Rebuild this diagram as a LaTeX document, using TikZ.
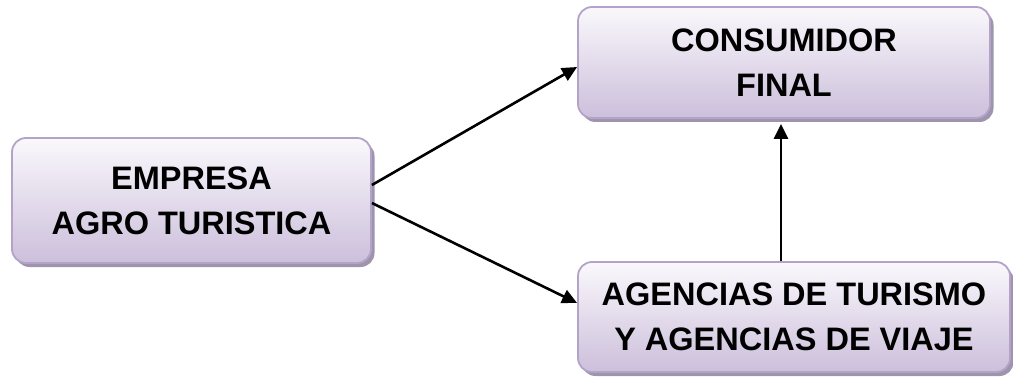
\documentclass[tikz,border=0pt]{standalone}
\usepackage{fontspec}
\setmainfont{Liberation Sans}
\usetikzlibrary{arrows.meta,shadows}
\definecolor{boxtop}{RGB}{250,248,252}
\definecolor{boxbot}{RGB}{204,191,219}
\definecolor{boxline}{RGB}{180,163,201}
\definecolor{shadowc}{RGB}{158,148,172}
\tikzset{
  box/.style={rectangle, rounded corners=14pt, draw=boxline, line width=1.8pt,
    top color=boxtop, bottom color=boxbot, align=center,
    font=\fontsize{32.5}{45}\selectfont\bfseries, inner sep=0pt,
    drop shadow={shadow xshift=3.5pt, shadow yshift=-4pt, fill=shadowc, opacity=1}},
  arr/.style={line width=2.6pt, -{Triangle[length=15pt,width=14pt]}}
}
\begin{document}
\begin{tikzpicture}[x=1pt,y=-1pt]
\useasboundingbox (0,0) rectangle (1013,377);
\node[box, minimum width=359pt, minimum height=125pt] (emp) at (191.5,200.5) {EMPRESA\\AGRO TURISTICA};
\node[box, minimum width=412pt, minimum height=111pt] (cons) at (784,62.5) {CONSUMIDOR\\FINAL};
\node[box, minimum width=432pt, minimum height=110pt] (agen) at (794,317) {AGENCIAS DE TURISMO\\Y AGENCIAS DE VIAJE};
\coordinate (vx) at (781,0);
\draw[arr] ([yshift=15.5pt]emp.east) -- ([yshift=-4.5pt]cons.west);
\draw[arr] ([yshift=-2.5pt]emp.east) -- ([yshift=14pt]agen.west);
\draw[arr] (agen.north -| vx) -- ([yshift=-5pt]cons.south -| vx);
\end{tikzpicture}
\end{document}
